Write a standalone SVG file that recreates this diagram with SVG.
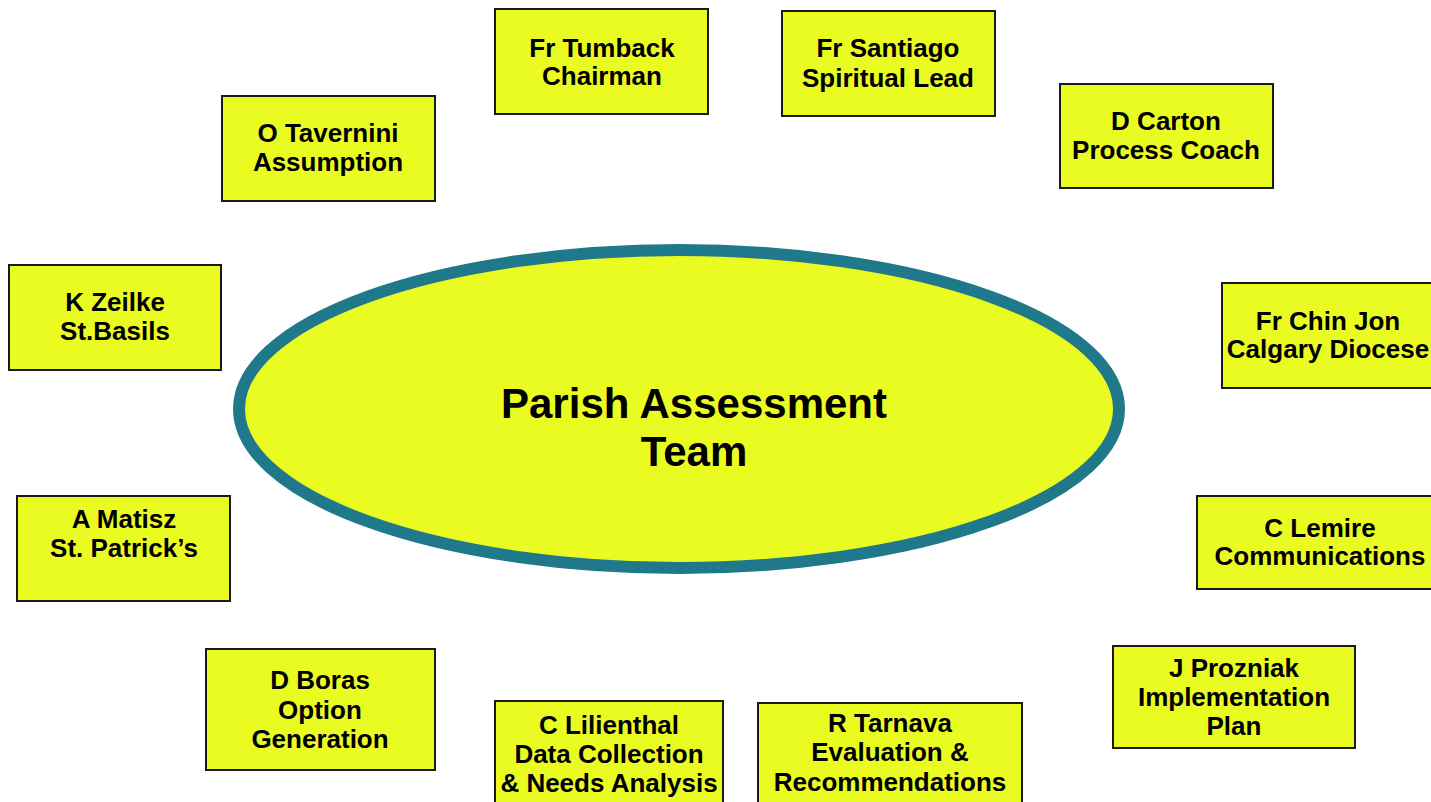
<svg xmlns="http://www.w3.org/2000/svg" width="1431" height="802" viewBox="0 0 1431 802">
<style>
.box{fill:#eafb22;stroke:#1a1a1a;stroke-width:2}
.t{font-family:"Liberation Sans",Arial,sans-serif;font-weight:bold;font-size:26px;fill:#000;text-anchor:middle}
.title{font-family:"Liberation Sans",Arial,sans-serif;font-weight:bold;font-size:42px;fill:#000;text-anchor:middle}
</style>
<rect width="1431" height="802" fill="#fff"/>
<g id="connectors"></g>
<g id="center">
<ellipse cx="679" cy="409" rx="440" ry="159" fill="#eafb22" stroke="#1f798b" stroke-width="12"/>
<text class="title" x="694" y="418">Parish Assessment</text>
<text class="title" x="694" y="466">Team</text>
</g>
<g id="tumback"><rect class="box" x="495" y="9" width="213" height="105"/>
<text class="t" x="602" y="57">Fr Tumback</text><text class="t" x="602" y="85">Chairman</text></g>
<g id="santiago"><rect class="box" x="782" y="11" width="213" height="105"/>
<text class="t" x="888" y="57">Fr Santiago</text><text class="t" x="888" y="87">Spiritual Lead</text></g>
<g id="carton"><rect class="box" x="1060" y="84" width="213" height="104"/>
<text class="t" x="1166" y="130">D Carton</text><text class="t" x="1166" y="159">Process Coach</text></g>
<g id="tavernini"><rect class="box" x="222" y="96" width="213" height="105"/>
<text class="t" x="328" y="142">O Tavernini</text><text class="t" x="328" y="171">Assumption</text></g>
<g id="zeilke"><rect class="box" x="9" y="265" width="212" height="105"/>
<text class="t" x="115" y="311">K Zeilke</text><text class="t" x="115" y="340">St.Basils</text></g>
<g id="chinjon"><rect class="box" x="1222" y="283" width="213" height="105"/>
<text class="t" x="1328" y="330">Fr Chin Jon</text><text class="t" x="1328" y="358">Calgary Diocese</text></g>
<g id="matisz"><rect class="box" x="17" y="496" width="213" height="105"/>
<text class="t" x="124" y="528">A Matisz</text><text class="t" x="124" y="557">St. Patrick’s</text></g>
<g id="lemire"><rect class="box" x="1197" y="496" width="246" height="93"/>
<text class="t" x="1320" y="537">C Lemire</text><text class="t" x="1320" y="565">Communications</text></g>
<g id="boras"><rect class="box" x="206" y="649" width="229" height="121"/>
<text class="t" x="320" y="689">D Boras</text><text class="t" x="320" y="719">Option</text><text class="t" x="320" y="748">Generation</text></g>
<g id="lilienthal"><rect class="box" x="495" y="701" width="228" height="110"/>
<text class="t" x="609" y="734">C Lilienthal</text><text class="t" x="609" y="763">Data Collection</text><text class="t" x="609" y="792">&amp; Needs Analysis</text></g>
<g id="tarnava"><rect class="box" x="758" y="703" width="264" height="108"/>
<text class="t" x="890" y="732">R Tarnava</text><text class="t" x="890" y="761">Evaluation &amp;</text><text class="t" x="890" y="791">Recommendations</text></g>
<g id="prozniak"><rect class="box" x="1113" y="646" width="242" height="102"/>
<text class="t" x="1234" y="677">J Prozniak</text><text class="t" x="1234" y="706">Implementation</text><text class="t" x="1234" y="735">Plan</text></g>
</svg>
